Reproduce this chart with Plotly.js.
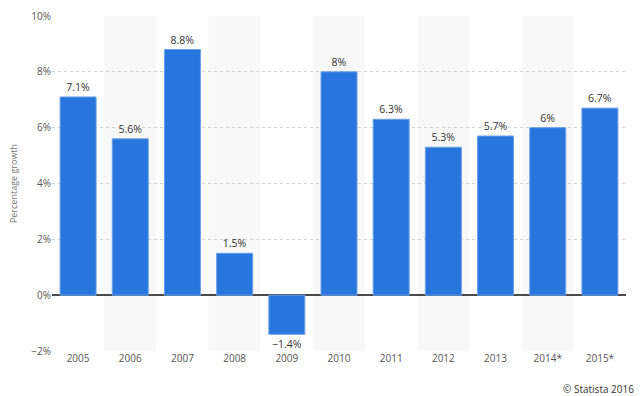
<!DOCTYPE html>
<html>
<head>
<meta charset="utf-8">
<script src="https://cdn.plot.ly/plotly-3.0.1.min.js"></script>
<style>html,body{margin:0;padding:0;background:#fff;}#chart{width:640px;height:396px;}</style>
</head>
<body>
<div id="chart"></div>
<script>
const years = ['2005','2006','2007','2008','2009','2010','2011','2012','2013','2014*','2015*'];
const growth = [7.1, 5.6, 8.8, 1.5, -1.4, 8, 6.3, 5.3, 5.7, 6, 6.7];
const yTicks = [-2, 0, 2, 4, 6, 8, 10];

const fontFam = '"Open Sans", "DejaVu Sans", sans-serif';
const fmt = v => (v < 0 ? '\u2212' + Math.abs(v) : String(v)) + '%';
const labels = growth.map(fmt);
const yTickText = yTicks.map(fmt);

const shapes = [];
years.forEach((y, i) => {
  if (i % 2 === 1) {
    shapes.push({type:'rect', xref:'x', yref:'paper', x0:i-0.5, x1:i+0.5, y0:0, y1:1,
      fillcolor:'#f8f8f8', line:{width:0}, layer:'below'});
  }
});

const trace = {
  type:'bar', x: years.map((y,i)=>i), y: growth,
  text: labels, textposition:'outside', cliponaxis:false,
  textfont:{family:fontFam, size:10.5, color:'#333'},
  marker:{color:'#2876dd', line:{color:'#6aa0e8', width:1}},
  hoverinfo:'skip'
};

const layout = {
  width:640, height:396,
  margin:{l:52, r:14, t:16, b:45},
  paper_bgcolor:'#fff', plot_bgcolor:'rgba(0,0,0,0)',
  bargap:0.31, showlegend:false,
  font:{family:fontFam, color:'#666', size:10},
  xaxis:{
    tickmode:'array', tickvals: years.map((y,i)=>i), ticktext: years,
    range:[-0.5, years.length-0.5], showgrid:false, zeroline:false,
    showline:false, ticks:'', tickfont:{size:10, color:'#555'}, fixedrange:true
  },
  yaxis:{
    range:[-2,10], tickmode:'array', tickvals:yTicks, ticktext:yTickText,
    showgrid:true, gridcolor:'#d2d2d2', griddash:'dot', gridwidth:1,
    zeroline:true, zerolinecolor:'#4a4a4a', zerolinewidth:2,
    showline:false, ticks:'', tickfont:{size:10, color:'#555'},
    title:{text:'Percentage growth', font:{size:9, color:'#777'}, standoff:12},
    fixedrange:true
  },
  shapes: shapes,
  annotations:[{
    text:'\u00a9 Statista 2016', xref:'paper', yref:'paper', x:1, y:0,
    xanchor:'right', yanchor:'top', yshift:-29, xshift:10, showarrow:false,
    font:{size:10, color:'#333'}
  }]
};

Plotly.newPlot('chart', [trace], layout, {displayModeBar:false, staticPlot:true});
</script>
</body>
</html>
